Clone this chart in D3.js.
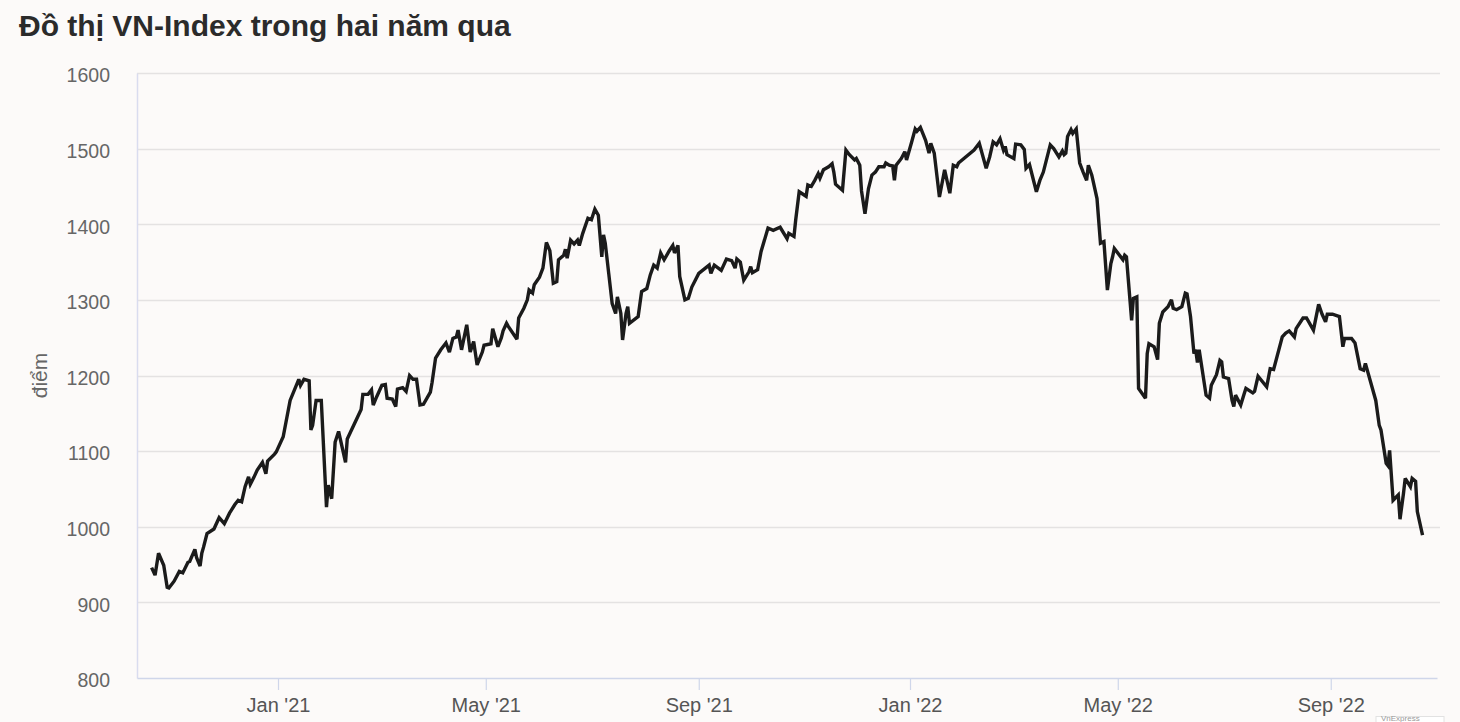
<!DOCTYPE html>
<html><head><meta charset="utf-8">
<script src="https://cdn.jsdelivr.net/npm/d3@7"></script>
<style>
html,body{margin:0;padding:0;background:#fcfaf9;}
svg{display:block;}
</style></head>
<body>
<svg id="chart" width="1460" height="722"></svg>
<script>
// ---------------- data ----------------
const title = "Đồ thị VN-Index trong hai năm qua";
const yAxisTitle = "điểm";
const creditText = "VnExpress";
const yTicks = [800, 900, 1000, 1100, 1200, 1300, 1400, 1500, 1600];
const dates = [
"2020-10-20","2020-10-22","2020-10-24","2020-10-27","2020-10-29","2020-10-30","2020-11-02","2020-11-05","2020-11-07","2020-11-10",
"2020-11-11","2020-11-14","2020-11-15","2020-11-17","2020-11-18","2020-11-19","2020-11-21","2020-11-25","2020-11-28","2020-12-01",
"2020-12-04","2020-12-07","2020-12-09","2020-12-11","2020-12-13","2020-12-15","2020-12-16","2020-12-18","2020-12-20","2020-12-23",
"2020-12-25","2020-12-26","2020-12-30","2020-12-31","2021-01-04","2021-01-08","2021-01-13","2021-01-14","2021-01-16","2021-01-19",
"2021-01-20","2021-01-21","2021-01-23","2021-01-26","2021-01-29","2021-01-30","2021-02-01","2021-02-03","2021-02-05","2021-02-09",
"2021-02-10","2021-02-18","2021-02-19","2021-02-22","2021-02-24","2021-02-25","2021-02-27","2021-03-02","2021-03-04","2021-03-05",
"2021-03-08","2021-03-10","2021-03-11","2021-03-14","2021-03-16","2021-03-18","2021-03-20","2021-03-22","2021-03-24","2021-03-26",
"2021-03-30","2021-03-31","2021-04-02","2021-04-05","2021-04-08","2021-04-10","2021-04-12","2021-04-14","2021-04-15","2021-04-17",
"2021-04-20","2021-04-22","2021-04-24","2021-04-26","2021-04-29","2021-04-30","2021-05-04","2021-05-05","2021-05-08","2021-05-10",
"2021-05-11","2021-05-13","2021-05-14","2021-05-19","2021-05-20","2021-05-23","2021-05-25","2021-05-26","2021-05-28","2021-05-29",
"2021-06-01","2021-06-03","2021-06-05","2021-06-07","2021-06-09","2021-06-11","2021-06-12","2021-06-15","2021-06-16","2021-06-17",
"2021-06-19","2021-06-21","2021-06-23","2021-06-24","2021-06-26","2021-06-29","2021-07-01","2021-07-03","2021-07-05","2021-07-07",
"2021-07-08","2021-07-09","2021-07-11","2021-07-13","2021-07-15","2021-07-16","2021-07-18","2021-07-19","2021-07-21","2021-07-22",
"2021-07-23","2021-07-28","2021-07-30","2021-08-02","2021-08-04","2021-08-06","2021-08-08","2021-08-10","2021-08-12","2021-08-15",
"2021-08-17","2021-08-18","2021-08-20","2021-08-21","2021-08-24","2021-08-26","2021-08-28","2021-09-01","2021-09-07","2021-09-08",
"2021-09-10","2021-09-14","2021-09-17","2021-09-20","2021-09-22","2021-09-23","2021-09-25","2021-09-27","2021-09-30","2021-10-01",
"2021-10-02","2021-10-05","2021-10-07","2021-10-11","2021-10-14","2021-10-18","2021-10-22","2021-10-23","2021-10-26","2021-10-27",
"2021-10-29","2021-11-02","2021-11-03","2021-11-05","2021-11-07","2021-11-09","2021-11-10","2021-11-12","2021-11-15","2021-11-17",
"2021-11-18","2021-11-19","2021-11-23","2021-11-25","2021-11-27","2021-11-30","2021-12-01","2021-12-03","2021-12-04","2021-12-06",
"2021-12-08","2021-12-10","2021-12-12","2021-12-14","2021-12-17","2021-12-18","2021-12-20","2021-12-22","2021-12-23","2021-12-24",
"2021-12-27","2021-12-29","2021-12-30","2022-01-02","2022-01-04","2022-01-05","2022-01-07","2022-01-10","2022-01-12","2022-01-13",
"2022-01-15","2022-01-18","2022-01-21","2022-01-24","2022-01-26","2022-01-28","2022-01-29","2022-02-07","2022-02-10","2022-02-14",
"2022-02-16","2022-02-18","2022-02-20","2022-02-22","2022-02-24","2022-02-25","2022-02-26","2022-03-02","2022-03-03","2022-03-06",
"2022-03-08","2022-03-09","2022-03-11","2022-03-15","2022-03-17","2022-03-19","2022-03-23","2022-03-25","2022-03-28","2022-03-30",
"2022-03-31","2022-04-01","2022-04-02","2022-04-04","2022-04-05","2022-04-07","2022-04-09","2022-04-11","2022-04-13","2022-04-14",
"2022-04-16","2022-04-19","2022-04-21","2022-04-23","2022-04-25","2022-04-27","2022-04-28","2022-04-29","2022-05-04","2022-05-05",
"2022-05-06","2022-05-09","2022-05-10","2022-05-12","2022-05-13","2022-05-17","2022-05-18","2022-05-19","2022-05-22","2022-05-24",
"2022-05-25","2022-05-27","2022-05-30","2022-06-01","2022-06-02","2022-06-04","2022-06-07","2022-06-09","2022-06-10","2022-06-12",
"2022-06-14","2022-06-15","2022-06-16","2022-06-17","2022-06-21","2022-06-23","2022-06-24","2022-06-27","2022-06-29","2022-06-30",
"2022-07-01","2022-07-04","2022-07-06","2022-07-07","2022-07-08","2022-07-11","2022-07-13","2022-07-14","2022-07-18","2022-07-19",
"2022-07-21","2022-07-26","2022-07-28","2022-07-30","2022-08-04","2022-08-06","2022-08-08","2022-08-11","2022-08-12","2022-08-16",
"2022-08-18","2022-08-22","2022-08-25","2022-08-27","2022-08-29","2022-08-30","2022-09-02","2022-09-06","2022-09-08","2022-09-09",
"2022-09-13","2022-09-15","2022-09-18","2022-09-20","2022-09-21","2022-09-27","2022-09-29","2022-09-30","2022-10-03","2022-10-04",
"2022-10-05","2022-10-07","2022-10-10","2022-10-11","2022-10-13","2022-10-14","2022-10-17","2022-10-18","2022-10-20","2022-10-21",
"2022-10-24"
];
const values = [
946,936,965,949,920,919,928,941,939,953,
954,970,959,948,965,973,991,997,1012,1004,
1018,1029,1035,1033,1053,1066,1056,1065,1075,1085,
1070,1087,1096,1099,1119,1167,1195,1187,1195,1193,
1128,1134,1167,1167,1026,1055,1037,1112,1126,1085,
1116,1155,1175,1175,1181,1161,1172,1187,1188,1170,
1169,1159,1182,1184,1179,1200,1195,1195,1161,1162,
1178,1191,1223,1234,1243,1231,1249,1251,1260,1234,
1267,1231,1245,1214,1231,1240,1242,1262,1238,1250,
1259,1269,1265,1248,1276,1289,1300,1313,1309,1320,
1330,1342,1376,1365,1322,1324,1353,1359,1367,1355,
1379,1374,1379,1372,1388,1408,1406,1420,1412,1357,
1386,1375,1335,1295,1282,1304,1282,1247,1282,1291,
1269,1278,1311,1315,1333,1346,1342,1362,1353,1365,
1372,1362,1372,1331,1300,1302,1317,1335,1346,1335,
1346,1339,1354,1352,1342,1354,1350,1326,1337,1344,
1336,1340,1364,1395,1392,1396,1381,1388,1384,1406,
1443,1437,1452,1450,1458,1467,1461,1472,1476,1480,
1469,1453,1445,1498,1492,1485,1487,1478,1444,1414,
1447,1465,1469,1476,1476,1481,1478,1477,1458,1478,
1487,1496,1485,1509,1526,1523,1528,1511,1494,1507,
1494,1436,1472,1441,1478,1476,1481,1498,1507,1474,
1489,1509,1505,1513,1498,1503,1492,1487,1506,1505,
1499,1474,1479,1443,1458,1469,1505,1500,1489,1497,
1492,1494,1516,1525,1520,1526,1481,1469,1458,1478,
1465,1434,1375,1377,1313,1348,1357,1368,1353,1359,
1357,1273,1302,1304,1183,1170,1229,1242,1238,1221,
1269,1284,1291,1300,1289,1287,1291,1309,1308,1278,
1229,1234,1217,1234,1174,1170,1187,1201,1220,1218,
1198,1196,1167,1159,1174,1161,1176,1183,1177,1179,
1199,1185,1209,1208,1251,1256,1259,1251,1262,1276,
1276,1260,1294,1281,1271,1281,1281,1278,1238,1249,
1249,1243,1209,1207,1216,1167,1134,1128,1084,1081,
1101,1035,1042,1010,1044,1064,1053,1064,1060,1020,
989
];

// ---------------- chart ----------------
const svg = d3.select("#chart");
const plotLeft = 137, plotRight = 1440, plotTop = 73, plotBottom = 678;
const font = "'Liberation Sans', Arial, sans-serif";

const parse = d3.utcParse("%Y-%m-%d");
const data = dates.map((d, i) => ({date: parse(d), value: values[i]}));

// calibrate time scale: Jan '21 and Jan '22 tick positions
const cal = d3.scaleUtc().domain([parse("2021-01-01"), parse("2022-01-01")]).range([278, 910]);
const x = d3.scaleUtc().domain([cal.invert(plotLeft), cal.invert(1437)]).range([plotLeft, 1437]);
const y = d3.scaleLinear().domain([800, 1600]).range([plotBottom, plotTop]);

// title
svg.append("text").attr("x", 19).attr("y", 36)
  .attr("font-family", font).attr("font-size", 30).attr("font-weight", "bold")
  .attr("fill", "#2b2b2b").text(title);

// gridlines
svg.append("g").selectAll("line").data(yTicks.filter(t => t !== 800)).join("line")
  .attr("x1", plotLeft).attr("x2", plotRight)
  .attr("y1", d => Math.round(y(d)) + 0.5).attr("y2", d => Math.round(y(d)) + 0.5)
  .attr("stroke", "#e4e2e2").attr("stroke-width", 1.5);

// y axis (labels + faint axis line)
const yAxis = d3.axisLeft(y).tickValues(yTicks).tickFormat(d3.format("d")).tickSize(0).tickPadding(27);
const gy = svg.append("g").attr("transform", `translate(${plotLeft},0)`).call(yAxis);
gy.select(".domain").attr("stroke", "#d9dcef").attr("stroke-width", 1.5);
gy.selectAll("text").attr("font-family", font).attr("font-size", 19.5).attr("fill", "#666")
  .attr("dy", "0.45em");

// y axis title
svg.append("text").attr("transform", `translate(47,${(plotTop + plotBottom) / 2}) rotate(-90)`)
  .attr("text-anchor", "middle").attr("font-family", font).attr("font-size", 21)
  .attr("fill", "#666").text(yAxisTitle);

// x axis
const xAxis = d3.axisBottom(x).ticks(d3.utcMonth.every(4))
  .tickFormat(d3.utcFormat("%b '%y")).tickSize(12).tickSizeOuter(0).tickPadding(8);
const gx = svg.append("g").attr("transform", `translate(0,${plotBottom})`).call(xAxis);
gx.select(".domain").attr("stroke", "#cfd6ea").attr("stroke-width", 1.5);
gx.selectAll(".tick line").attr("stroke", "#cfd6ea").attr("stroke-width", 1.2);
gx.selectAll("text").attr("font-family", font).attr("font-size", 20).attr("fill", "#555");

// line
const line = d3.line().x(d => x(d.date)).y(d => y(d.value));
svg.append("path").datum(data).attr("d", line)
  .attr("fill", "none").attr("stroke", "#1b1b1b").attr("stroke-width", 3.4)
  .attr("stroke-linejoin", "miter").attr("stroke-miterlimit", 3);

// white box at bottom-right with the credit inside it
svg.append("rect").attr("x", 1376).attr("y", 716.5).attr("width", 68).attr("height", 10)
  .attr("fill", "#ffffff").attr("stroke", "#e2e2e2").attr("stroke-width", 1);
svg.append("text").attr("x", 1381).attr("y", 721).attr("font-family", font)
  .attr("font-size", 8).attr("fill", "#999").text(creditText);
</script>
</body></html>
